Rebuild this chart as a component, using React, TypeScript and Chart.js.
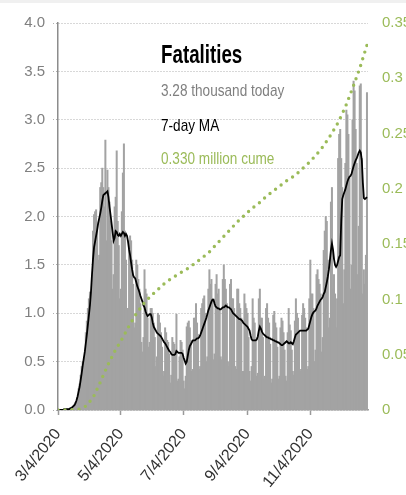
import React, { useEffect, useRef } from 'react';
import { Chart, registerables } from 'chart.js';

Chart.register(...registerables);

// Daily fatalities, thousands, one value per day starting 3/4/2020
const dailyDeaths: number[] = [
  0.002, 0.003, 0.002, 0.004, 0.003, 0.004, 0.006,
  0.008, 0.006, 0.010, 0.011, 0.012, 0.018, 0.023,
  0.035, 0.045, 0.060, 0.080, 0.090, 0.130, 0.220,
  0.270, 0.360, 0.450, 0.500, 0.480, 0.550, 0.800,
  0.920, 1.050, 1.150, 1.220, 1.050, 1.300, 1.850,
  2.020, 2.050, 2.070, 1.900, 1.550, 1.600, 2.300,
  2.350, 2.500, 2.300, 2.100, 2.790, 1.750, 2.480,
  2.300, 2.150, 1.950, 1.750, 1.250, 1.400, 2.100,
  2.200, 2.680, 1.950, 1.700, 1.150, 1.250, 2.050,
  2.450, 2.750, 1.850, 1.550, 1.050, 1.050, 1.750,
  1.800, 1.750, 1.550, 1.300, 0.850, 0.900, 1.550,
  1.500, 1.350, 1.250, 1.100, 0.700, 0.600, 0.750,
  1.450, 1.250, 1.200, 0.950, 0.650, 0.700, 1.050,
  1.050, 1.000, 0.900, 0.750, 0.450, 0.550, 1.000,
  0.980, 0.900, 0.800, 0.650, 0.350, 0.400, 0.850,
  0.800, 0.720, 0.700, 0.580, 0.280, 0.360, 0.750,
  0.700, 0.680, 0.620, 0.990, 0.300, 0.320, 0.550,
  0.720, 0.700, 0.620, 0.300, 0.220, 0.350, 0.860,
  0.900, 0.920, 0.850, 0.720, 0.400, 0.420, 0.950,
  0.950, 1.100, 0.900, 0.780, 0.420, 0.450, 1.050,
  1.100, 1.150, 1.180, 1.000, 0.500, 0.550, 1.250,
  1.450, 1.300, 1.350, 1.150, 0.520, 0.580, 1.300,
  1.400, 1.200, 1.250, 1.050, 0.550, 0.520, 1.350,
  1.500, 1.350, 1.250, 1.100, 0.500, 0.450, 1.300,
  1.350, 1.150, 1.150, 1.050, 0.450, 0.420, 1.250,
  1.250, 1.100, 1.050, 0.950, 0.400, 0.400, 1.200,
  1.100, 1.050, 1.000, 0.750, 0.400, 0.300, 0.450,
  1.150, 0.950, 0.900, 0.720, 0.350, 0.380, 1.150,
  1.250, 0.950, 0.950, 0.750, 0.320, 0.350, 1.050,
  1.100, 0.950, 0.900, 0.680, 0.280, 0.320, 0.980,
  1.020, 0.900, 0.850, 0.650, 0.320, 0.350, 0.850,
  0.950, 0.920, 0.800, 0.620, 0.350, 0.300, 0.800,
  1.050, 0.880, 0.820, 0.620, 0.400, 0.360, 0.920,
  1.150, 1.000, 0.950, 0.800, 0.400, 0.420, 0.980,
  1.100, 1.050, 0.950, 0.850, 0.420, 0.450, 1.150,
  1.550, 1.200, 1.200, 1.050, 0.500, 0.620, 1.400,
  1.450, 1.350, 1.300, 1.200, 0.600, 0.750, 1.650,
  1.850, 2.000, 1.950, 1.550, 0.850, 0.950, 2.150,
  2.300, 1.250, 1.400, 1.200, 0.850, 1.150, 2.600,
  2.850, 2.900, 2.600, 2.300, 1.100, 1.450, 2.550,
  3.100, 3.050, 2.850, 2.400, 1.250, 1.500, 3.000,
  3.400, 3.300, 2.900, 2.550, 1.400, 1.900, 3.350,
  3.370, 2.600, 1.200, 1.450, 1.300, 1.600, 3.280,
];

// 7-day moving average, thousands, same days
const movingAvg: number[] = [
  0, 0, 0, 0, 0, 0, 0.01,
  0.01, 0.01, 0.01, 0.01, 0.01, 0.02, 0.02,
  0.03, 0.04, 0.05, 0.07, 0.10, 0.14, 0.19,
  0.24, 0.31, 0.38, 0.46, 0.53, 0.60, 0.69,
  0.78, 0.88, 0.98, 1.08, 1.22, 1.40, 1.56,
  1.68, 1.74, 1.80, 1.86, 1.93, 1.98, 2.03,
  2.09, 2.16, 2.22, 2.23, 2.24, 2.25, 2.26,
  2.20, 2.10, 2.02, 1.93, 1.84, 1.75, 1.78,
  1.85, 1.84, 1.81, 1.80, 1.82, 1.80, 1.82,
  1.84, 1.83, 1.80, 1.82, 1.80, 1.74, 1.66,
  1.60, 1.52, 1.45, 1.39, 1.37, 1.36, 1.32,
  1.28, 1.25, 1.22, 1.18, 1.15, 1.12, 1.08,
  1.06, 1.02, 0.99, 0.97, 0.98, 0.99, 0.99,
  0.96, 0.90, 0.86, 0.84, 0.82, 0.80, 0.79,
  0.78, 0.77, 0.76, 0.74, 0.72, 0.70, 0.69,
  0.67, 0.65, 0.63, 0.61, 0.60, 0.58, 0.57,
  0.57, 0.57, 0.58, 0.61, 0.60, 0.59, 0.59,
  0.59, 0.59, 0.58, 0.54, 0.51, 0.48, 0.50,
  0.56, 0.62, 0.66, 0.68, 0.70, 0.72, 0.72,
  0.72, 0.73, 0.74, 0.74, 0.75, 0.77, 0.80,
  0.83, 0.86, 0.89, 0.92, 0.95, 0.99, 1.03,
  1.06, 1.09, 1.12, 1.14, 1.14, 1.10, 1.07,
  1.06, 1.05, 1.05, 1.04, 1.04, 1.05, 1.06,
  1.06, 1.07, 1.08, 1.07, 1.06, 1.06, 1.05,
  1.04, 1.02, 1.00, 0.99, 0.98, 0.97, 0.96,
  0.95, 0.94, 0.94, 0.93, 0.92, 0.90, 0.89,
  0.88, 0.87, 0.86, 0.84, 0.82, 0.77, 0.73,
  0.72, 0.72, 0.72, 0.72, 0.73, 0.76, 0.82,
  0.86, 0.84, 0.81, 0.79, 0.78, 0.77, 0.76,
  0.75, 0.75, 0.74, 0.74, 0.73, 0.73, 0.72,
  0.72, 0.71, 0.71, 0.70, 0.70, 0.69, 0.68,
  0.67, 0.67, 0.68, 0.69, 0.70, 0.71, 0.70,
  0.69, 0.69, 0.70, 0.69, 0.68, 0.71, 0.75,
  0.78, 0.79, 0.80, 0.81, 0.82, 0.82, 0.82,
  0.82, 0.82, 0.82, 0.82, 0.83, 0.84, 0.88,
  0.92, 0.96, 0.99, 1.01, 1.02, 1.03, 1.05,
  1.08, 1.10, 1.12, 1.14, 1.15, 1.17, 1.20,
  1.22, 1.27, 1.32, 1.38, 1.45, 1.55, 1.65,
  1.72, 1.66, 1.56, 1.50, 1.48, 1.50, 1.54,
  1.58, 1.60, 1.95, 2.18, 2.22, 2.25, 2.28,
  2.32, 2.36, 2.39, 2.41, 2.42, 2.44, 2.48,
  2.52, 2.55, 2.58, 2.60, 2.63, 2.66, 2.68,
  2.66, 2.58, 2.35, 2.19, 2.18, 2.19, 2.20,
];

// Cumulative fatalities, millions, at selected day offsets from 3/4/2020
const cumeDays: number[] = [
  0, 7, 14, 20, 27, 34, 41, 48, 55, 62, 69, 76, 83, 90, 97, 104, 111, 118, 125,
  132, 139, 146, 153, 160, 167, 174, 181, 188, 195, 202, 209, 216, 223, 230,
  237, 244, 251, 258, 265, 272, 279, 286, 293, 300,
];
const cumeValues: number[] = [
  0, 0.0001, 0.0002, 0.0005, 0.0035, 0.011, 0.025, 0.040, 0.053, 0.064, 0.076,
  0.087, 0.096, 0.103, 0.109, 0.115, 0.1195, 0.1236, 0.1274, 0.132, 0.137,
  0.142, 0.149, 0.156, 0.163, 0.170, 0.176, 0.182, 0.187, 0.193, 0.198, 0.203,
  0.208, 0.212, 0.218, 0.224, 0.231, 0.239, 0.249, 0.260, 0.274, 0.291, 0.309,
  0.330,
];

const xTickDays: number[] = [0, 61, 122, 184, 245];
const xTickLabels: string[] = ['3/4/2020', '5/4/2020', '7/4/2020', '9/4/2020', '11/4/2020'];

const titleText = 'Fatalities';
const todayText = '3.28 thousand today';
const maText = '7-day MA';
const cumeText = '0.330 million cume';

const GREEN = '#9bbb59';
const BAR = '#a3a3a3';
const TEXTFONT = '"Liberation Sans", Arial, sans-serif';
const TICKFONT = '"Liberation Sans", Arial, sans-serif';

export default function App() {
  const ref = useRef<HTMLCanvasElement | null>(null);

  useEffect(() => {
    document.body.style.margin = '0';
    const canvas = ref.current;
    if (!canvas) return;
    const barData = dailyDeaths.map((v, i) => ({ x: i, y: v }));
    const maData = movingAvg.map((v, i) => ({ x: i, y: v }));
    const cumeData = cumeDays.map((d, i) => ({ x: d, y: cumeValues[i] }));

    const chart = new Chart(canvas, {
      type: 'bar',
      data: {
        datasets: [
          {
            type: 'line',
            data: cumeData,
            yAxisID: 'y1',
            borderColor: GREEN,
            borderWidth: 3.4,
            borderDash: [0, 7],
            borderCapStyle: 'round',
            pointRadius: 0,
            fill: false,
            tension: 0,
            order: 1,
          } as any,
          {
            type: 'line',
            data: maData,
            yAxisID: 'y',
            borderColor: '#000000',
            borderWidth: 1.8,
            pointRadius: 0,
            fill: false,
            tension: 0,
            order: 2,
          } as any,
          {
            type: 'bar',
            data: barData,
            yAxisID: 'y',
            backgroundColor: BAR,
            borderWidth: 0,
            barThickness: 1.35,
            order: 3,
          } as any,
        ],
      },
      options: {
        responsive: false,
        animation: false,
        devicePixelRatio: 1,
        layout: { padding: { top: 14, left: 0, right: 0, bottom: 0 } },
        plugins: {
          legend: { display: false },
          tooltip: { enabled: false },
        },
        scales: {
          x: {
            type: 'linear',
            min: 0,
            max: 301,
            offset: false,
            afterBuildTicks: (scale: any) => {
              scale.ticks = xTickDays.map((v) => ({ value: v }));
            },
            afterFit: (scale: any) => {
              scale.height = 85;
            },
            grid: {
              drawOnChartArea: false,
              drawTicks: true,
              tickLength: 5,
              tickWidth: 1.5,
              tickColor: '#9a9a9a',
              color: '#9a9a9a',
              offset: false,
            },
            border: { display: true, color: '#a0a0a0', width: 1.5 },
            ticks: {
              autoSkip: false,
              maxRotation: 51,
              minRotation: 51,
              padding: 10,
              color: '#333333',
              font: { family: TICKFONT, size: 16 },
              callback: (_v: any, i: number) => xTickLabels[i],
            },
          } as any,
          y: {
            type: 'linear',
            position: 'left',
            min: 0,
            max: 4,
            afterFit: (scale: any) => {
              scale.width = 58;
            },
            grid: {
              color: '#b0b0b0',
              lineWidth: 1,
              tickBorderDash: [1, 2],
              tickColor: '#b0b0b0',
              tickLength: 5,
              drawTicks: true,
            },
            border: { display: true, color: '#8c8c8c', width: 1.5, dash: [1, 2] },
            ticks: {
              stepSize: 0.5,
              padding: 8,
              color: '#808080',
              font: { family: TICKFONT, size: 15 },
              callback: (v: any) => Number(v).toFixed(1),
            },
          } as any,
          y1: {
            type: 'linear',
            position: 'right',
            min: 0,
            max: 0.35,
            afterFit: (scale: any) => {
              scale.width = 38;
            },
            grid: { display: false, drawOnChartArea: false, drawTicks: false },
            border: { display: false },
            ticks: {
              stepSize: 0.05,
              padding: 14,
              color: GREEN,
              font: { family: TICKFONT, size: 15 },
              callback: (v: any) => String(Number(Number(v).toFixed(2))),
            },
          } as any,
        },
      },
    });
    return () => chart.destroy();
  }, []);

  const base: React.CSSProperties = {
    position: 'absolute',
    left: 161,
    whiteSpace: 'nowrap',
    fontFamily: TEXTFONT,
    lineHeight: 1,
    transformOrigin: 'left top',
  };

  return (
    <div style={{ position: 'relative', width: 406, height: 495, background: '#ffffff', overflow: 'hidden' }}>
      <div style={{ position: 'absolute', left: 0, top: 0, width: 406, height: 3, background: '#f0f0f0' }} />
      <canvas ref={ref} width={406} height={495} style={{ position: 'absolute', left: 0, top: 0, width: 406, height: 495 }} />
      <div style={{ ...base, top: 42, fontSize: 25, fontWeight: 'bold', color: '#000000', transform: 'scaleX(0.75)' }}>{titleText}</div>
      <div style={{ ...base, top: 82, fontSize: 17, color: '#7f7f7f', transform: 'scaleX(0.8)' }}>{todayText}</div>
      <div style={{ ...base, top: 117, fontSize: 17, color: '#000000', transform: 'scaleX(0.8)' }}>{maText}</div>
      <div style={{ ...base, top: 150, fontSize: 17, color: GREEN, transform: 'scaleX(0.8)' }}>{cumeText}</div>
    </div>
  );
}
